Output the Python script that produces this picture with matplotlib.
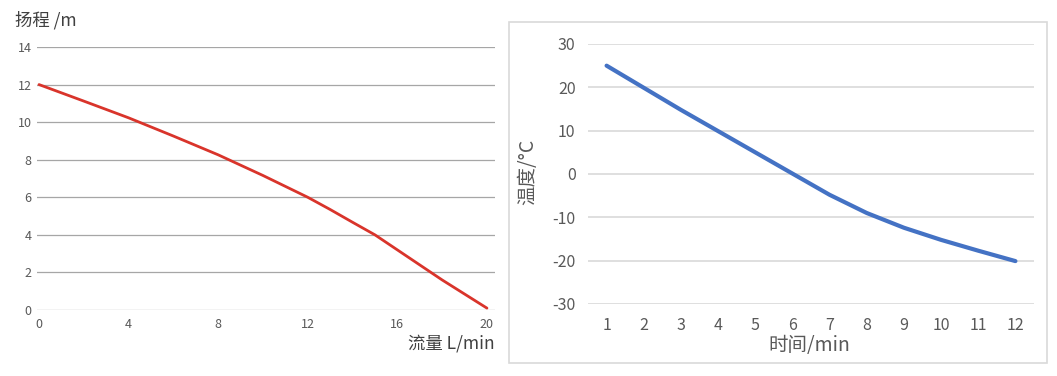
import matplotlib.pyplot as plt
from matplotlib.patches import Rectangle

plt.rcParams['font.family'] = ['Noto Sans CJK SC', 'DejaVu Sans']
plt.rcParams['axes.unicode_minus'] = False

# 扬程曲线 (左图)
flow = [0, 2, 4, 6, 8, 10, 12, 13, 14, 15, 16, 17, 18, 19, 20]
head = [12, 11.12, 10.23, 9.26, 8.26, 7.16, 6.0, 5.35, 4.67, 4.0, 3.2, 2.4, 1.6, 0.85, 0.1]
flow_ticks = [0, 4, 8, 12, 16, 20]
head_ticks = [0, 2, 4, 6, 8, 10, 12, 14]

# 温度曲线 (右图)
minutes = [1, 2, 3, 4, 5, 6, 7, 8, 9, 10, 11, 12]
temperature = [25, 19.9, 14.8, 9.9, 5.0, 0.1, -4.8, -9.0, -12.4, -15.2, -17.7, -20.1]
temp_ticks = [-30, -20, -10, 0, 10, 20, 30]

TEXT = '#595959'
W, H = 1057, 376

fig = plt.figure(figsize=(W / 100, H / 100), dpi=100)

# ---- left chart ----
ax1 = fig.add_axes([37 / W, 1 - 310 / H, 458 / W, 263 / H])
ax1.plot(flow, head, color='#d9342b', lw=2.0, solid_capstyle='round')
ax1.set_xlim(-0.09, 20.36)
ax1.set_ylim(0, 14)
ax1.set_yticks(head_ticks)
ax1.set_xticks(flow_ticks)
ax1.grid(axis='y', color='#a6a6a6', lw=0.9)
ax1.set_axisbelow(True)
for s in ax1.spines.values():
    s.set_visible(False)
ax1.tick_params(length=0, labelsize=9, labelcolor=TEXT, pad=4)
ax1.tick_params(axis='x', pad=6)
fig.text(15 / W, 1 - 20 / H, '扬程 /m', fontsize=12.5, color='#404040',
         va='center', ha='left')
fig.text(495 / W, 1 - 344 / H, '流量 L/min', fontsize=12.5, color='#404040',
         va='center', ha='right')

# ---- right chart ----
fig.patches.append(Rectangle((509 / W, 1 - 363 / H), 538 / W, 341 / H,
                             transform=fig.transFigure, fill=False,
                             edgecolor='#d9d9d9', lw=1.2))
ax2 = fig.add_axes([588 / W, 1 - 304 / H, 446 / W, 260 / H])
ax2.plot(minutes, temperature, color='#4472c4', lw=3.0, solid_capstyle='round')
ax2.set_xlim(0.5, 12.5)
ax2.set_ylim(-30, 30)
ax2.set_yticks(temp_ticks)
ax2.set_xticks(minutes)
ax2.grid(axis='y', color='#d9d9d9', lw=1.2)
ax2.set_axisbelow(True)
for s in ax2.spines.values():
    s.set_visible(False)
ax2.tick_params(length=0, labelsize=11.5, labelcolor=TEXT, pad=9)
ax2.tick_params(axis='x', pad=9)
fig.text(809 / W, 1 - 345 / H, '时间/min', fontsize=14, color=TEXT,
         va='center', ha='center')
fig.text(528 / W, 1 - 172 / H, '温度/°C', fontsize=14, color=TEXT,
         va='center', ha='center', rotation=90)

fig.savefig('out.png', dpi=100)
